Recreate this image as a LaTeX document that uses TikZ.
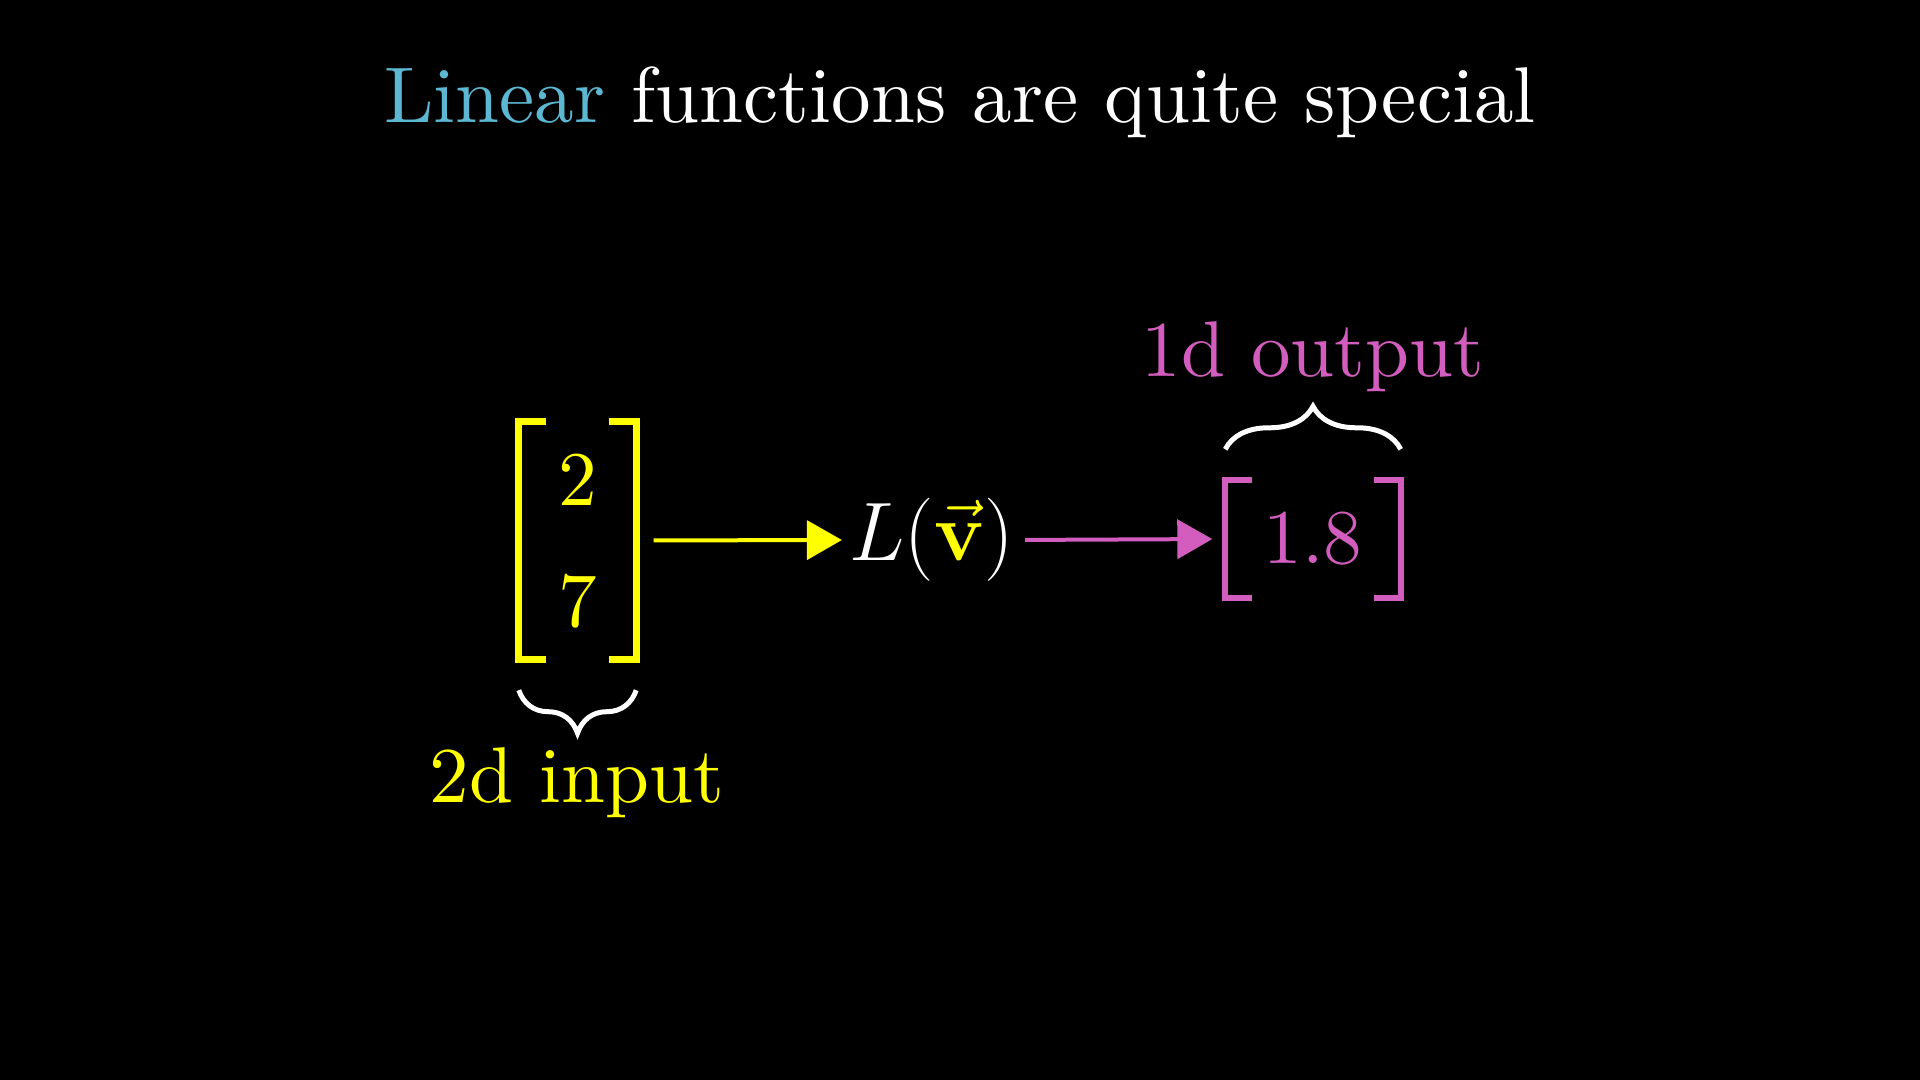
\documentclass[tikz,border=0pt]{standalone}
\usepackage[no-math]{fontspec}
\usepackage{graphicx}
\setmainfont{lmroman10-regular.otf}[BoldFont=lmroman10-bold.otf,ItalicFont=lmroman10-italic.otf]
\usetikzlibrary{arrows.meta,positioning,decorations.pathreplacing}
\definecolor{lblue}{HTML}{5CB8D2}
\definecolor{lyellow}{HTML}{FFFF00}
\definecolor{lpink}{HTML}{D35DBE}
\begin{document}
\begin{tikzpicture}[font=\fontsize{22.5}{27}\selectfont,
    arr/.style={-{Triangle[length=0.35cm,width=0.39cm]},line width=0.04cm},
    brc/.style={decorate,decoration={brace,amplitude=0.43cm},white,line width=0.05cm}]
      \fill[black] (0,0) rectangle (19.2,10.8);
      \node[white,anchor=base] (t) at (9.6,9.57) {\textcolor{lblue}{Linear} functions are quite special};
      \node[inner sep=0pt,minimum width=1.16cm,minimum height=2.36cm] (vin) at (5.775,5.395) {};
      \node[lyellow,inner sep=0pt,font=\fontsize{22}{27}\selectfont] (x) at ([yshift=0.61cm]vin.center) {2};
      \node[lyellow,inner sep=0pt,font=\fontsize{22}{27}\selectfont] (y) at ([yshift=-0.61cm]vin.center) {7};
      \draw[lyellow,line width=0.07cm] ([xshift=0.275cm]vin.north west) -- (vin.north west) -- (vin.south west) -- ++(0.275,0);
      \draw[lyellow,line width=0.07cm] ([xshift=-0.275cm]vin.north east) -- (vin.north east) -- (vin.south east) -- ++(-0.275,0);
      \node[white,inner sep=0pt,font=\fontsize{23}{28}\selectfont] (lv) at (9.32,5.40) {\scalebox{0.95}{$L({\color{lyellow}\vec{\mathbf{v}}})$}};
      \node[lpink,inner sep=0pt,minimum width=1.74cm,minimum height=1.16cm,font=\fontsize{22}{27}\selectfont] (vout) at (13.13,5.41) {1.8};
      \draw[lpink,line width=0.06cm] ([xshift=0.27cm]vout.north west) -- (vout.north west) -- (vout.south west) -- ++(0.27,0);
      \draw[lpink,line width=0.06cm] ([xshift=-0.27cm]vout.north east) -- (vout.north east) -- (vout.south east) -- ++(-0.27,0);
      \draw[arr,lyellow,shorten <=0.175cm,shorten >=0.07cm] (vin.east) -- (lv.west);
      \draw[arr,lpink,shorten <=0.1cm,shorten >=0.13cm] (lv.east) -- (vout.west);
      \draw[brc] ([yshift=0.31cm]vout.north west) -- ([yshift=0.31cm]vout.north east);
      \draw[brc] ([yshift=-0.31cm]vin.south east) -- ([yshift=-0.31cm]vin.south west);
      \node[lpink,anchor=base] (o) at (13.13,7.03) {1d output};
      \node[lyellow,anchor=base] (i) at (5.77,2.77) {2d input};
    \end{tikzpicture}
\end{document}
